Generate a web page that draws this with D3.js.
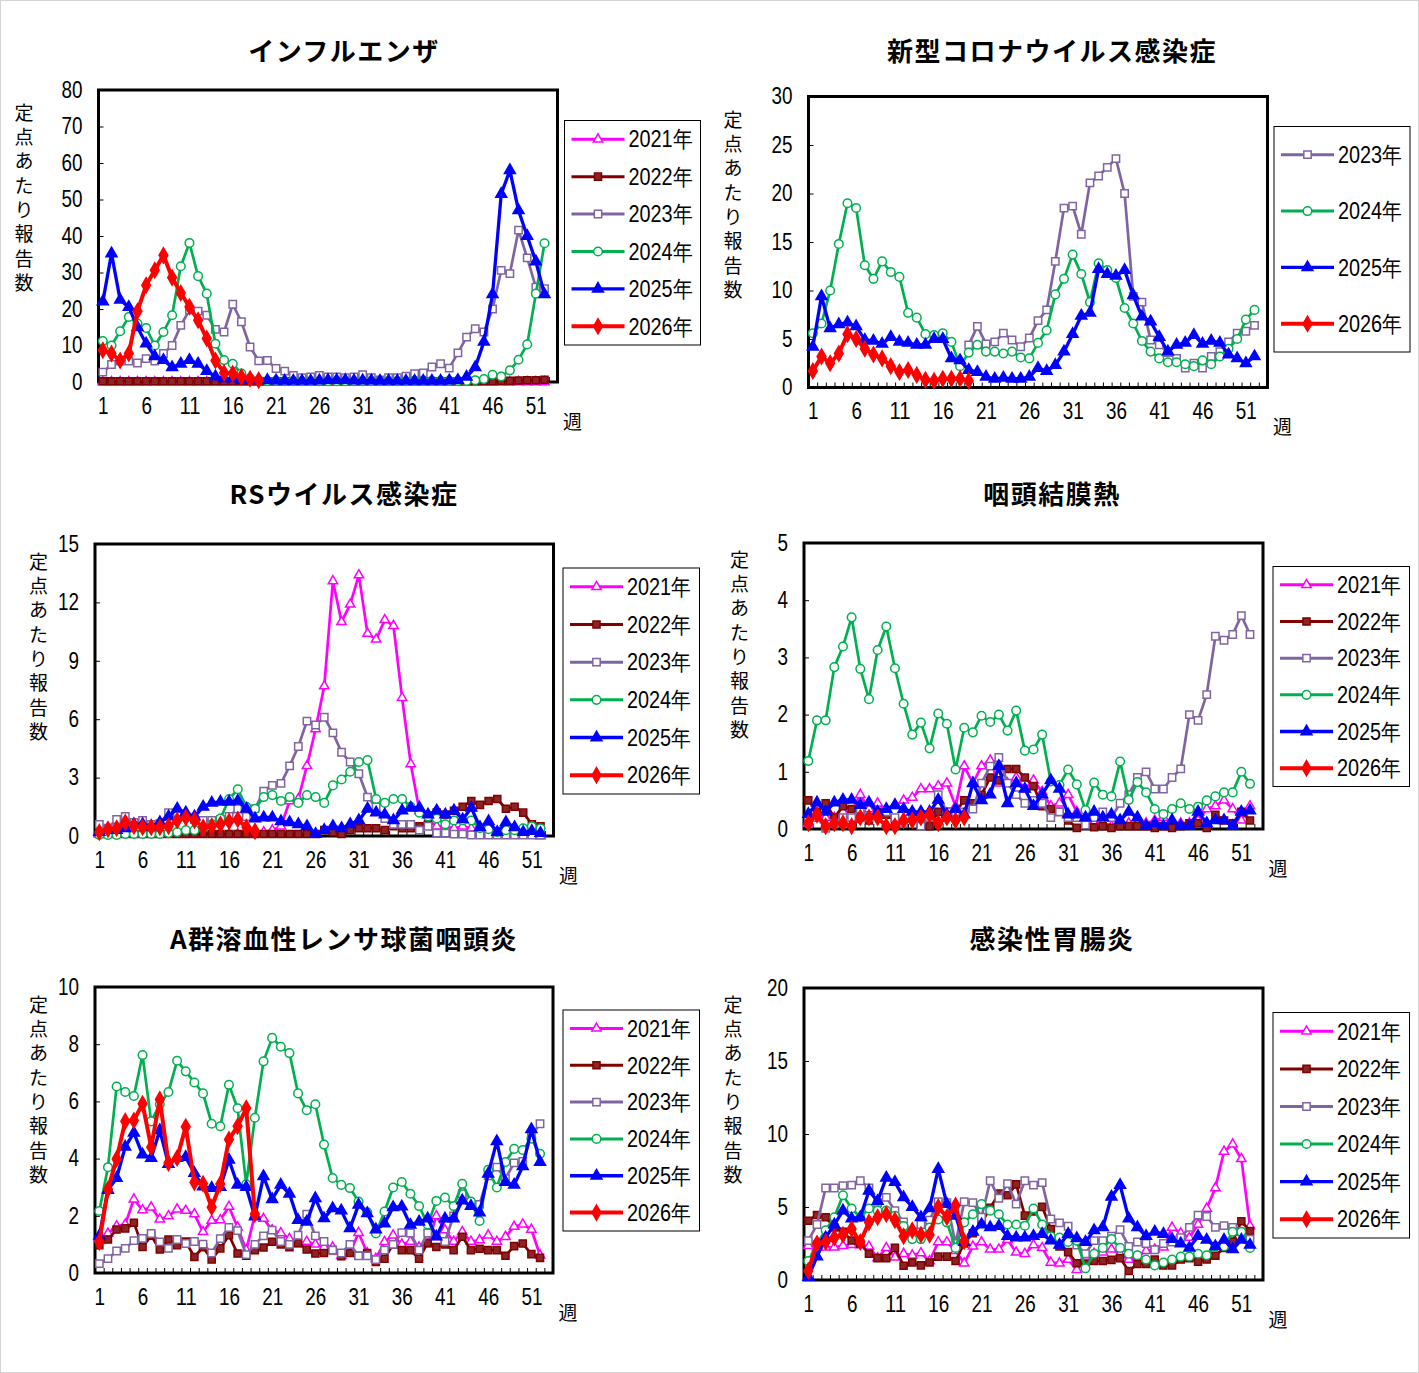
<!DOCTYPE html>
<html>
<head>
<meta charset="utf-8">
<script src="https://cdn.jsdelivr.net/npm/d3@7"></script>
<style>
  body { margin: 0; background: #fff; }
  .num { font-family: "Liberation Sans", Arial, sans-serif; font-size: 23px; fill: #000; }
  .title { font-family: "Noto Sans CJK JP", sans-serif; font-weight: bold; font-size: 26px; letter-spacing: 1.5px; fill: #000; }
  .jp { font-family: "Noto Sans CJK JP", sans-serif; font-size: 19px; fill: #000; }
</style>
</head>
<body>
<div id="chart"></div>
<script>
const weekSlots = d3.range(1, 54); // 53 week slots on the category axis
const weekTicks = [1, 6, 11, 16, 21, 26, 31, 36, 41, 46, 51];
const yearNames = ["2021年", "2022年", "2023年", "2024年", "2025年", "2026年"];

// インフルエンザ
const flu2021 = [0,0,0,0,0,0,0,0,0,0,0,0,0,0,0,0,0,0,0,0,0,0,0,0,0,0,0,0,0,0,0,0,0,0,0,0,0,0,0,0,0,0,0,0,0,0,0,0,0,0,0,0];
const flu2022 = [0.2,0.2,0.2,0.2,0.2,0.2,0.2,0.2,0.2,0.2,0.2,0.2,0.2,0.2,0.2,0.2,0.2,0.2,0.2,0.2,0.2,0.2,0.2,0.2,0.2,0.2,0.2,0.2,0.2,0.2,0.2,0.2,0.2,0.2,0.2,0.2,0.2,0.2,0.2,0.2,0.2,0.2,0.2,0.2,0.2,0.2,0.3,0.3,0.4,0.5,0.5,0.6];
const flu2023 = [2.7,4.8,5.7,5.7,5.2,6.4,5.7,7.8,10,15.5,19.7,19.4,18.3,14.4,13.7,21.3,16.5,9.6,5.8,5.9,3.7,3,1.8,1.2,1.4,1.8,1.4,1.4,1.2,1.4,2,1.2,0.6,1.2,1.2,1.6,2.3,2.5,4.1,5,3.8,8,12.3,14.6,13.7,20,30.6,29.7,41.6,34,26,25.6];
const flu2024 = [11.2,10,13.9,17.8,16,14.8,10,13.7,18.3,31.7,38.1,29,24.2,10.5,6,5,2.3,1,0.5,0.3,0.3,0.2,0.2,0.2,0.2,0.2,0.2,0.2,0.2,0.2,0.2,0.2,0.2,0.2,0.2,0.2,0.3,0.3,0.3,0.3,0.3,0.3,0.3,0.5,0.8,2,1.5,3.2,6.1,10.3,24.2,38];
const flu2025 = [22,35.2,22.5,20.5,15,10.5,7,6,4,5,6,5,3,1.5,1,1,0.5,0.5,0.5,0.5,0.4,0.3,0.3,0.3,0.3,0.4,0.5,0.5,0.5,0.4,0.4,0.4,0.3,0.3,0.3,0.3,0.3,0.3,0.3,0.3,0.4,0.5,1.4,4,11,24,51.5,58,47,40,33,24];
const flu2026 = [8.7,7.8,5.9,7.8,19.4,26.5,30.6,34.7,28.6,24.4,20.6,16.9,11.9,5.9,2.5,2.3,1.4,0.9,0.5];

// 新型コロナウイルス感染症 (2023年は第19週から)
const cov2023 = [null,null,null,null,null,null,null,null,null,null,null,null,null,null,null,null,null,null,4.4,6.3,4.5,4.7,5.6,4.9,4.2,5.1,6.9,8,13,18.5,18.7,15.8,21.1,21.8,22.7,23.6,20,9.4,8.8,4.9,4.4,3.6,3,2,2.5,2,3.2,3.7,4.7,5.6,5.8,6.4];
const cov2024 = [5.6,6.6,10,14.8,19,18.5,12.6,11.2,13,11.9,11.4,7.7,7.2,5.5,5.4,5.6,4.7,2.2,3.6,4.4,3.7,3.7,3.5,3.7,3.1,3,4.6,5.9,9.6,11.2,13.7,11.7,8.8,12.8,12.1,11.3,8.2,6.6,4.8,3.7,3,2.6,2.6,2.4,2.2,2.8,2.4,3.2,4,5,7,8];
const cov2025 = [4.2,9.4,6.1,6.5,6.7,6.3,4.9,4.8,4.5,5.2,4.7,4.6,4.4,4.4,5,5,3,2.8,1.8,1.6,1.1,0.9,1,0.9,0.9,1.1,2,1.7,2.3,3.7,5.5,7.4,7.7,12.2,11.7,11.5,12.1,9.5,7.3,6.8,5.2,3.7,4.4,4.6,5.4,4.5,4.8,4.6,3.4,3,2.5,3.2];
const cov2026 = [1.7,3.2,2.5,3.5,5.5,5,4,3.4,3,2.2,1.6,1.8,1.3,0.8,0.7,0.9,0.9,0.9,0.7];

// RSウイルス感染症
const rs2021 = [0.1,0.1,0.1,0.1,0.1,0.1,0.1,0.1,0.1,0.1,0.1,0.1,0.1,0.1,0.1,0.1,0.1,0.1,0.2,0.2,0.3,0.5,1.8,1.9,3.6,5.5,7.7,13.1,11,11.9,13.4,10.4,10.1,11.1,10.8,7.1,3.7,1.3,0.8,0.5,0.5,0.4,0.5,0.4,0.3,0.3,0.2,0.2,0.2,0.1,0.1,0];
const rs2022 = [0.1,0.1,0.1,0.1,0.1,0.1,0.1,0.1,0.1,0.1,0.1,0.1,0.1,0.1,0.1,0.1,0.1,0.1,0.1,0.1,0.1,0.1,0.1,0.1,0.1,0.1,0.3,0.2,0.1,0.3,0.4,0.4,0.4,0.3,0.5,0.4,0.4,0.5,0.6,1.2,1.1,1.3,1.5,1.8,1.6,1.8,1.9,1.4,1.5,1.2,0.6,0.5];
const rs2023 = [0.6,0.4,0.85,1,0.7,0.8,0.6,0.65,1.2,1.2,1,0.85,0.8,0.8,0.85,1,1.4,1,1.4,2.3,2.6,2.7,3.6,4.6,5.9,5.7,6.1,5.3,4.3,3.8,3.2,2,1.5,0.9,0.6,0.6,0.6,0.3,0.5,0.15,0.15,0.1,0.1,0.05,0.05,0.05,0.05,0.05,0.05,0.05,0.05,0.05];
const rs2024 = [0.05,0.05,0.05,0.1,0.1,0.1,0.1,0.1,0.15,0.2,0.3,0.3,0.4,0.6,0.9,1.9,2.4,1.5,1.4,2,2.1,1.8,2,1.7,2.1,2,1.7,2.6,2.9,3.3,3.8,3.9,1.9,1.7,1.9,1.9,1.5,1.2,1,0.9,0.6,0.8,0.8,0.8,0.4,0.35,0.2,0.3,0.3,0.4,0.5,0.4];
const rs2025 = [0.2,0.3,0.3,0.4,0.6,0.6,0.5,0.7,1,1.4,1.2,1,1.5,1.7,1.75,1.75,1.8,1.4,0.9,0.95,0.95,0.75,0.7,0.6,0.5,0.1,0.3,0.5,0.4,0.6,0.8,1.4,1.2,1.1,0.8,1.3,1.45,1.45,1.1,1.3,1.1,1.3,0.85,1.45,0.45,0.75,0.2,0.7,0.45,0.2,0.25,0.15];
const rs2026 = [0.2,0.35,0.4,0.7,0.5,0.45,0.45,0.45,0.5,0.8,0.95,0.8,0.45,0.5,0.6,0.75,0.85,0.45,0.25];

// 咽頭結膜熱
const pcf2021 = [0.1,0.2,0.2,0.2,0.3,0.3,0.6,0.35,0.45,0.35,0.4,0.5,0.55,0.7,0.7,0.75,0.8,0.4,1.1,0.8,1.1,1.2,0.8,0.8,0.9,0.7,0.85,0.65,0.4,0.45,0.6,0.3,0.1,0.1,0.1,0.05,0.1,0.1,0.1,0.1,0.15,0.2,0.1,0.1,0.1,0.15,0.35,0.4,0.5,0.35,0.15,0.4];
const pcf2022 = [0.5,0.3,0.45,0.2,0.4,0.35,0.2,0.15,0.3,0.25,0.15,0.1,0.2,0.2,0.05,0.3,0.3,0.3,0.5,0.45,0.6,0.9,0.85,1.05,1.05,0.9,0.75,0.4,0.35,0.3,0.15,0.02,0.1,0.03,0.05,0.02,0.05,0.05,0.05,0.05,0.02,0.05,0.02,0.05,0.1,0.1,0.02,0.25,0.15,0.1,0.3,0.15];
const pcf2023 = [0.2,0.2,0.01,0.1,0.2,0.2,0.35,0.2,0.25,0.3,0.2,0.1,0.2,0.05,0.2,0.6,0.3,0.3,0.3,0.35,0.8,1.1,1.25,0.8,0.6,0.45,0.5,0.45,0.2,0.3,0.2,0.2,0.07,0.2,0.3,0.2,0.45,0.6,0.9,1,0.7,0.7,0.9,1.05,2,1.9,2.35,3.37,3.3,3.4,3.73,3.4];
const pcf2024 = [1.19,1.9,1.9,2.83,3.19,3.7,2.8,2.27,3.13,3.54,2.81,2.19,1.65,1.86,1.41,2.02,1.84,1.04,1.77,1.69,1.98,1.87,2,1.72,2.07,1.37,1.39,1.65,0.83,0.77,1.04,0.78,0.33,0.81,0.6,0.57,1.18,0.51,0.82,0.64,0.35,0.26,0.35,0.45,0.35,0.39,0.5,0.57,0.64,0.64,1,0.79];
const pcf2025 = [0.26,0.46,0.3,0.46,0.51,0.51,0.42,0.46,0.3,0.35,0.42,0.35,0.3,0.3,0.3,0.51,0.25,0.35,0.25,0.8,0.5,0.6,1.1,0.45,0.8,0.7,0.4,0.6,0.85,0.7,0.25,0.25,0.2,0.3,0.2,0.25,0.15,0.3,0.2,0.05,0.1,0.05,0.15,0.05,0.05,0.3,0.1,0.15,0.15,0.05,0.3,0.32];
const pcf2026 = [0.1,0.25,0.05,0.1,0.1,0.05,0.2,0.2,0.2,0.05,0.05,0.15,0.15,0.2,0.25,0.1,0.2,0.15,0.2];

// A群溶血性レンサ球菌咽頭炎
const gas2021 = [1.2,1.38,1.64,1.7,2.58,2.2,2.3,1.88,1.99,2.23,2.18,2.06,1.44,1.83,1.85,2.32,1.6,0.8,2.03,1.9,1.5,1.4,1.2,1,1.1,1,0.9,0.9,0.6,0.7,1.41,0.7,0.5,1.09,1.32,1,1.1,0.9,1,1.99,1.5,1.1,1.44,1.1,1.15,1.32,1.1,1.27,1.62,1.7,1.52,0.62];
const gas2022 = [0.97,1.17,1.52,1.56,1.76,0.91,1.3,0.82,1.17,0.97,1.1,0.56,0.9,0.47,0.86,1.32,0.68,0.6,0.8,0.89,1.09,1,0.9,1.05,0.82,0.68,0.7,0.8,0.59,0.7,0.6,0.7,0.39,0.5,1,0.8,0.8,0.5,1.05,0.91,1,0.8,1.27,0.8,0.85,0.8,0.8,0.6,0.94,1.03,0.66,0.53];
const gas2023 = [0.33,0.5,0.77,0.86,1.13,1.21,1.38,1.09,0.86,1.17,1.03,1.1,1.01,0.7,1.2,1.59,1.48,0.64,1,1.3,1.5,1.1,1,1.32,2.06,1.3,1.1,0.8,0.7,1,0.6,0.6,0.47,0.8,1,1.41,1.4,0.8,1.4,1.3,1.1,2,2.77,2.4,2.4,3.4,3.7,3.3,3.85,3.9,4.8,5.22];
const gas2024 = [2.17,3.7,6.52,6.33,6.19,7.62,5.3,5.9,6.33,7.42,7.05,6.66,6.28,5.22,5.13,6.58,5.76,3.1,5.43,7.4,8.22,7.91,7.69,6.28,5.69,5.9,4.49,3.32,3.08,2.97,2.5,2.12,1.38,2.15,2.99,3.18,2.77,2.34,1.7,2.52,2.64,2.34,3.12,2.5,1.82,3.61,2.99,3.88,4.34,4.3,4.7,4.17];
const gas2025 = [1.3,2.9,3.32,4.41,4.9,4.14,4.02,4.99,3.81,4.02,4.05,3.49,3.02,2.97,3,3.96,3.08,3,1.97,3.38,2.58,3.08,2.77,1.85,1.79,2.61,1.91,2.26,2.18,1.56,2.38,2.09,1.52,1.73,2.3,2.32,1.68,1.79,1.9,1.27,1.9,1.9,2.53,2.34,2.11,3.47,4.6,3.18,3.08,3.73,5.02,3.88];
const gas2026 = [1.09,2.93,3.99,5.31,5.33,5.92,4.4,6.07,3.85,4.02,5.11,3.17,3.12,2.3,3.11,4.67,5.13,5.76,2.06];

// 感染性胃腸炎
const gi2021 = [2.35,2.24,2.24,2.24,2.35,2.41,2.4,2.3,1.5,2.2,1.55,1.8,1.7,1.84,1.3,2.6,2.6,2.0,1.15,2.3,2.6,2.1,2.1,2.76,1.89,1.8,2.4,2.2,1.2,1.15,1.4,0.7,1.6,1.8,1.9,2.1,1.8,1.4,1.6,2.0,2.1,2.24,3.6,3.2,2.9,3.8,4.9,6.3,8.8,9.3,8.3,3.7];
const gi2022 = [4.06,4.45,4.3,3.6,3.3,2.7,2.5,1.8,1.5,1.5,2.2,0.98,1.2,1.0,1.2,1.6,1.6,1.3,2.5,3.2,3.9,4.94,5.93,5.8,6.55,4.41,4.7,5.01,3.49,2.3,1.91,1.15,1.1,1.3,1.3,1.38,1.5,0.62,1.1,1.1,1.4,1.0,0.99,1.4,1.5,1.26,1.4,1.66,2.2,2.64,4.02,3.36];
const gi2023 = [2.7,3.8,6.3,6.3,6.46,6.5,6.8,6.3,5.3,5.66,4.75,3.97,3.2,3.8,4.1,5.36,5.3,2.5,5.36,5.3,4.3,6.8,5.6,6.6,5.2,6.8,6.5,6.67,4.18,3.91,3.68,2.4,1.8,2.7,2.7,3.0,3.45,2.3,2.6,2.5,2.07,2.5,2.6,2.9,3.6,4.44,4.35,3.6,3.72,3.6,3.3,2.8];
const gi2024 = [1.3,2.5,3.4,4.3,5.8,4.9,4.3,4.9,4.75,4.75,4.4,3.7,2.8,2.8,3.6,4.14,3.95,2.2,3.95,4.5,5.2,4.75,4.5,3.8,3.8,3.72,4.9,3.8,3.0,2.9,2.6,2.7,0.8,1.8,2.2,2.8,2.2,1.8,1.7,1.4,1.0,1.2,1.4,1.6,1.6,1.8,1.7,2.3,2.3,3.3,3.3,2.2];
const gi2025 = [0.2,1.6,2.9,3.8,4.75,4.2,4.3,6.1,5.4,7.0,6.7,5.66,5.0,4.3,4.9,7.6,5.2,4.4,2.6,3.3,3.8,3.6,3.7,3.0,2.9,2.9,3.0,3.15,2.7,2.4,3.15,2.85,2.6,3.4,3.6,5.7,6.5,4.2,3.6,3.0,3.3,3.15,2.8,2.5,2.2,3.0,2.75,2.3,2.75,2.1,2.75,2.4];
const gi2026 = [0.64,2.5,2.6,2.9,3.1,3.5,2.6,3.95,4.3,4.5,4.1,3.0,3.4,3.1,3.1,5.0,4.3,5.1,2.65];

const panels = [
  { title: "インフルエンザ", yMax: 80, yStep: 10, years: yearNames,
    series: [flu2021, flu2022, flu2023, flu2024, flu2025, flu2026] },
  { title: "新型コロナウイルス感染症", yMax: 30, yStep: 5, years: yearNames.slice(2),
    series: [cov2023, cov2024, cov2025, cov2026] },
  { title: "RSウイルス感染症", yMax: 15, yStep: 3, years: yearNames,
    series: [rs2021, rs2022, rs2023, rs2024, rs2025, rs2026] },
  { title: "咽頭結膜熱", yMax: 5, yStep: 1, years: yearNames,
    series: [pcf2021, pcf2022, pcf2023, pcf2024, pcf2025, pcf2026] },
  { title: "A群溶血性レンサ球菌咽頭炎", yMax: 10, yStep: 2, years: yearNames,
    series: [gas2021, gas2022, gas2023, gas2024, gas2025, gas2026] },
  { title: "感染性胃腸炎", yMax: 20, yStep: 5, years: yearNames,
    series: [gi2021, gi2022, gi2023, gi2024, gi2025, gi2026] }
];

// where each panel sits on the page
const layout = [
  { box: [98.5, 90, 459, 292],  legend: [564.5, 120.5, 136, 224.5], yt: [24, 113],   tx: 344,  ty: 52 },
  { box: [808.5, 96.5, 459, 291], legend: [1274, 126.5, 136, 225.5], yt: [733, 120], tx: 1052, ty: 52 },
  { box: [95, 544, 458.5, 292], legend: [563, 568, 136.5, 226],   yt: [38.5, 562],  tx: 344,  ty: 495 },
  { box: [804, 543, 459, 286],  legend: [1273, 566.5, 136.5, 220], yt: [739.5, 560], tx: 1052, ty: 495 },
  { box: [95, 987, 458, 286],   legend: [563, 1010, 136.5, 221],   yt: [38.5, 1005], tx: 344,  ty: 940 },
  { box: [804, 988, 459, 292],  legend: [1273, 1012.5, 136.5, 225.5], yt: [733, 1005], tx: 1052, ty: 940 }
];

const styles = {
  "2021年": { color: "#FF00FF", symbol: d3.symbolTriangle, size: 38, fill: "#fff",    width: 2.7 },
  "2022年": { color: "#800000", symbol: d3.symbolSquare,   size: 50, fill: "#8B2525", width: 2.7 },
  "2023年": { color: "#8064A2", symbol: d3.symbolSquare,   size: 54, fill: "#fff",    width: 2.7 },
  "2024年": { color: "#00B050", symbol: d3.symbolCircle,   size: 58, fill: "#fff",    width: 2.7 },
  "2025年": { color: "#0000FF", symbol: d3.symbolTriangle, size: 52, fill: "#0000FF", width: 3.3 },
  "2026年": { color: "#FF0000", symbol: d3.symbolDiamond,  size: 66, fill: "#FF0000", width: 4 }
};

// the original uses a tall, narrow numeral face; squeeze each label to that width
function narrow(sel) {
  sel.each(function () {
    const t = this.textContent;
    d3.select(this).attr("textLength", t.length * 10.5).attr("lengthAdjust", "spacingAndGlyphs");
  });
}

const svg = d3.select("#chart").append("svg")
  .attr("width", 1419).attr("height", 1373);

svg.append("rect").attr("x", 0.5).attr("y", 0.5).attr("width", 1418).attr("height", 1372)
  .attr("fill", "#fff").attr("stroke", "#d4d4d4");

const yTitle = "定点あたり報告数".split("");

panels.forEach((p, i) => {
  const L = layout[i];
  const [bx, by, bw, bh] = L.box;
  const g = svg.append("g");

  const x = d3.scaleLinear().domain([0.5, 53.5]).range([bx, bx + bw]);
  const y = d3.scaleLinear().domain([0, p.yMax]).range([by + bh, by]);

  g.append("text").attr("class", "title")
    .attr("x", L.tx).attr("y", L.ty).attr("dy", "0.36em")
    .attr("text-anchor", "middle").text(p.title);

  // vertical axis title
  g.append("g").selectAll("text").data(yTitle).join("text")
    .attr("class", "jp")
    .attr("x", L.yt[0]).attr("y", (d, k) => L.yt[1] + k * 24.3)
    .attr("dy", "0.36em").attr("text-anchor", "middle")
    .text(d => d);

  g.append("rect").attr("x", bx).attr("y", by).attr("width", bw).attr("height", bh)
    .attr("fill", "#fff").attr("stroke", "none");

  const yAxis = g.append("g").attr("transform", `translate(${bx},0)`)
    .call(d3.axisLeft(y).tickValues(d3.range(0, p.yMax + p.yStep / 2, p.yStep))
      .tickFormat(d => String(d)).tickSize(-5).tickPadding(16));
  yAxis.select(".domain").remove();
  yAxis.selectAll("line").attr("stroke", "#000").attr("stroke-width", 1);
  yAxis.selectAll("text").attr("class", "num").attr("font-size", null).attr("font-family", null).call(narrow);

  const xTicks = g.append("g").attr("transform", `translate(0,${by + bh})`)
    .call(d3.axisBottom(x).tickValues(d3.range(0.5, 54, 1)).tickSize(-5).tickFormat(""));
  xTicks.select(".domain").remove();
  xTicks.selectAll("line").attr("stroke", "#000").attr("stroke-width", 1);

  const xAxis = g.append("g").attr("transform", `translate(0,${by + bh})`)
    .call(d3.axisBottom(x).tickValues(weekTicks).tickSize(0).tickPadding(15.5));
  xAxis.select(".domain").remove();
  xAxis.selectAll("text").attr("class", "num").attr("font-size", null).attr("font-family", null).call(narrow);

  g.append("text").attr("class", "jp")
    .attr("x", bx + bw + 15).attr("y", by + bh + 40).attr("dy", "0.36em")
    .attr("text-anchor", "middle").text("週");

  g.append("rect").attr("x", bx).attr("y", by).attr("width", bw).attr("height", bh)
    .attr("fill", "none").attr("stroke", "#000").attr("stroke-width", 3);

  const line = d3.line()
    .defined(d => d.v != null)
    .x(d => x(d.w)).y(d => y(d.v));

  p.series.forEach((vals, k) => {
    const name = p.years[k];
    const st = styles[name];
    const pts = vals.map((v, j) => ({ w: weekSlots[j], v: v }));
    g.append("path").datum(pts)
      .attr("d", line).attr("fill", "none")
      .attr("stroke", st.color).attr("stroke-width", st.width)
      .attr("stroke-linejoin", "round");
    g.append("g").selectAll("path").data(pts.filter(d => d.v != null)).join("path")
      .attr("transform", d => `translate(${x(d.w)},${y(d.v)})`)
      .attr("d", d3.symbol().type(st.symbol).size(st.size))
      .attr("fill", st.fill).attr("stroke", st.color).attr("stroke-width", 1.5);
  });

  // legend
  const [lx, ly, lw, lh] = L.legend;
  const lg = g.append("g");
  lg.append("rect").attr("x", lx).attr("y", ly).attr("width", lw).attr("height", lh)
    .attr("fill", "#fff").attr("stroke", "#000").attr("stroke-width", 1);
  const n = p.years.length;
  p.years.forEach((name, k) => {
    const st = styles[name];
    const cy = ly + lh * (k + 0.5) / n;
    lg.append("line").attr("x1", lx + 7).attr("x2", lx + 60).attr("y1", cy).attr("y2", cy)
      .attr("stroke", st.color).attr("stroke-width", Math.max(3, st.width));
    lg.append("path").attr("transform", `translate(${lx + 33.5},${cy})`)
      .attr("d", d3.symbol().type(st.symbol).size(st.size))
      .attr("fill", st.fill).attr("stroke", st.color).attr("stroke-width", 1.5);
    lg.append("text").attr("class", "num")
      .attr("x", lx + 64).attr("y", cy).attr("dy", "0.36em")
      .attr("textLength", 64).attr("lengthAdjust", "spacingAndGlyphs")
      .text(name);
  });
});
</script>
</body>
</html>
